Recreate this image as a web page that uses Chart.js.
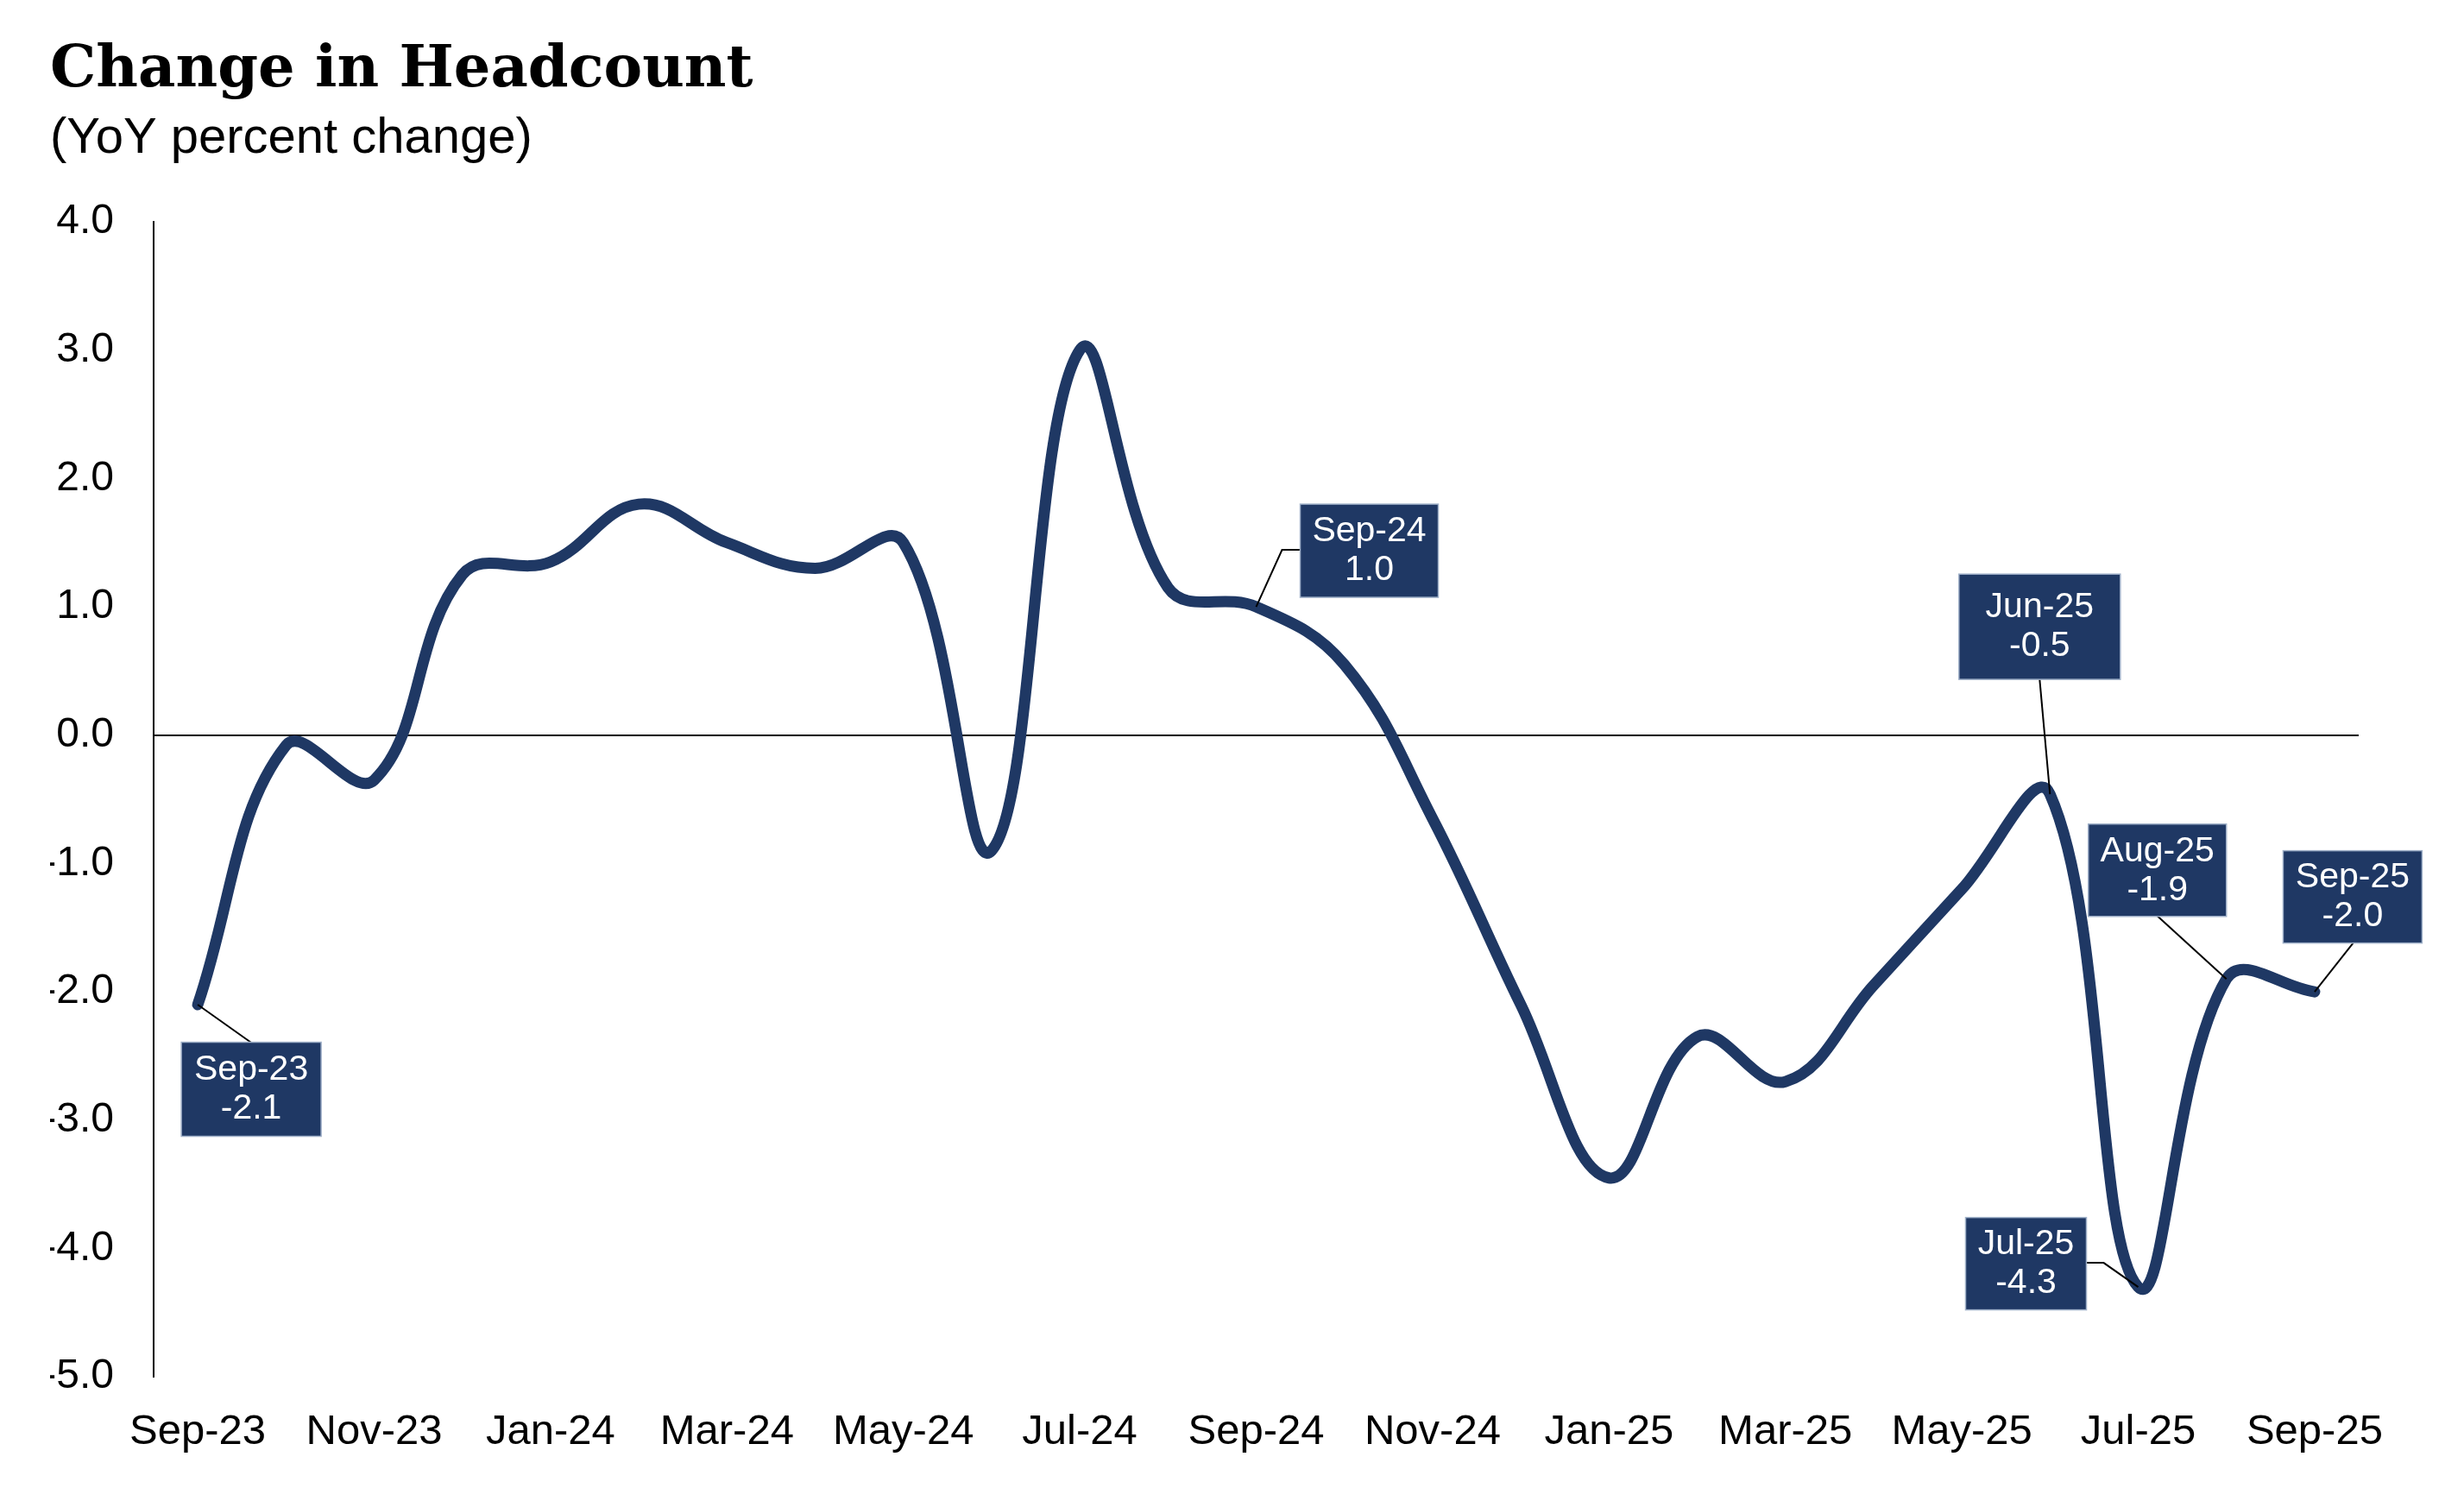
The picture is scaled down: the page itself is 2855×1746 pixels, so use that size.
<!DOCTYPE html>
<html>
<head>
<meta charset="utf-8">
<script src="https://cdn.jsdelivr.net/npm/chart.js@4.4.1/dist/chart.umd.min.js"></script>
<style>
  html, body { margin: 0; padding: 0; background: #ffffff; }
  #wrap { width: 2855px; height: 1746px; }
</style>
</head>
<body>
<div id="wrap"><canvas id="c" width="2855" height="1746"></canvas></div>
<script>
// ---- data ----
const months = ["Sep-23","Oct-23","Nov-23","Dec-23","Jan-24","Feb-24","Mar-24","Apr-24","May-24","Jun-24","Jul-24","Aug-24",
                "Sep-24","Oct-24","Nov-24","Dec-24","Jan-25","Feb-25","Mar-25","Apr-25","May-25","Jun-25","Jul-25","Aug-25","Sep-25"];
const headcountYoY = [-2.1, -0.08, -0.35, 1.25, 1.35, 1.8, 1.5, 1.3, 1.5, -0.9, 3.0, 1.15,
                      1.0, 0.55, -0.65, -2.1, -3.45, -2.35, -2.7, -1.95, -1.2, -0.46, -4.3, -1.9, -2.0];
const yTicks = [4, 3, 2, 1, 0, -1, -2, -3, -4, -5];
const calloutMonths = ["Sep-23", "Sep-24", "Jun-25", "Jul-25", "Aug-25", "Sep-25"];

const NAVY = '#1F3864';

// callout styling (box offset from point, box size, leader shape)
const calloutStyle = {
  "Sep-23": { dx: 62,   dy: 98,   w: 162, h: 109, leader: [[62, 44]] },
  "Sep-24": { dx: 131,  dy: -65,  w: 160, h: 108, leader: [[30, -66], [51, -66]] },
  "Jun-25": { dx: -12,  dy: -194, w: 187, h: 122, leader: [[-12, -133]] },
  "Jul-25": { dx: -130, dy: -27,  w: 140, h: 107, leader: [[-40, -28], [-60, -28]] },
  "Aug-25": { dx: -80,  dy: -126, w: 160, h: 107, leader: [[-80, -73]] },
  "Sep-25": { dx: 44,   dy: -110, w: 161, h: 107, leader: [[45, -57]] }
};

const calloutPlugin = {
  id: 'callouts',
  afterDatasetsDraw(chart) {
    const ctx = chart.ctx;
    const meta = chart.getDatasetMeta(0);
    ctx.save();
    calloutMonths.forEach(m => {
      const i = months.indexOf(m);
      const pt = meta.data[i];
      const st = calloutStyle[m];
      const px = pt.x, py = pt.y;
      // leader
      ctx.beginPath();
      ctx.strokeStyle = '#000';
      ctx.lineWidth = 2;
      ctx.moveTo(px, py);
      st.leader.forEach(p => ctx.lineTo(px + p[0], py + p[1]));
      ctx.stroke();
      // box
      const cx = px + st.dx, cy = py + st.dy;
      ctx.fillStyle = NAVY;
      ctx.fillRect(cx - st.w / 2, cy - st.h / 2, st.w, st.h);
      ctx.strokeStyle = '#9fb0c8';
      ctx.lineWidth = 1.5;
      ctx.strokeRect(cx - st.w / 2, cy - st.h / 2, st.w, st.h);
      // text
      ctx.fillStyle = '#ffffff';
      ctx.font = '41px "Liberation Sans", Arial, sans-serif';
      ctx.textAlign = 'center';
      ctx.textBaseline = 'middle';
      ctx.fillText(m, cx, cy - 22);
      ctx.fillText(headcountYoY[i].toFixed(1), cx, cy + 23);
    });
    ctx.restore();
  }
};

new Chart(document.getElementById('c'), {
  type: 'line',
  data: {
    labels: months,
    datasets: [{
      data: headcountYoY,
      borderColor: NAVY,
      borderWidth: 13,
      tension: 0.4,
      pointRadius: 0,
      pointHoverRadius: 0,
      borderCapStyle: 'round',
      borderJoinStyle: 'round',
      fill: false
    }]
  },
  options: {
    responsive: false,
    animation: false,
    devicePixelRatio: 1,
    layout: { padding: { top: 42, left: 58, right: 122, bottom: 22 } },
    plugins: {
      legend: { display: false },
      tooltip: { enabled: false },
      title: {
        display: true,
        text: 'Change in Headcount',
        align: 'start',
        color: '#000',
        font: { family: '"DejaVu Serif", serif', weight: 'bold', size: 67 },
        padding: { top: 0, bottom: 0 }
      },
      subtitle: {
        display: true,
        text: '(YoY percent change)',
        align: 'start',
        color: '#000',
        font: { family: '"Liberation Sans", Arial, sans-serif', size: 58 },
        padding: { top: 4, bottom: 61 }
      }
    },
    scales: {
      x: {
        offset: true,
        grid: { display: false, drawTicks: false },
        border: { display: false },
        ticks: {
          autoSkip: false,
          maxRotation: 0,
          minRotation: 0,
          padding: 35,
          color: '#000',
          font: { family: '"Liberation Sans", Arial, sans-serif', size: 49 },
          callback: function(v, idx) { return idx % 2 === 0 ? months[idx] : ''; }
        }
      },
      y: {
        min: -5,
        max: 4,
        afterFit: function(scale) { scale.width = 120; },
        afterBuildTicks: function(scale) { scale.ticks = yTicks.map(v => ({ value: v })); },
        grid: {
          drawTicks: false,
          color: ctx => (ctx.tick && ctx.tick.value === 0) ? '#000' : 'rgba(0,0,0,0)',
          lineWidth: 2
        },
        border: { display: true, color: '#000', width: 2 },
        ticks: {
          padding: 46,
          color: '#000',
          font: { family: '"Liberation Sans", Arial, sans-serif', size: 48 },
          callback: v => Number(v).toFixed(1)
        }
      }
    }
  },
  plugins: [calloutPlugin]
});
</script>
</body>
</html>
